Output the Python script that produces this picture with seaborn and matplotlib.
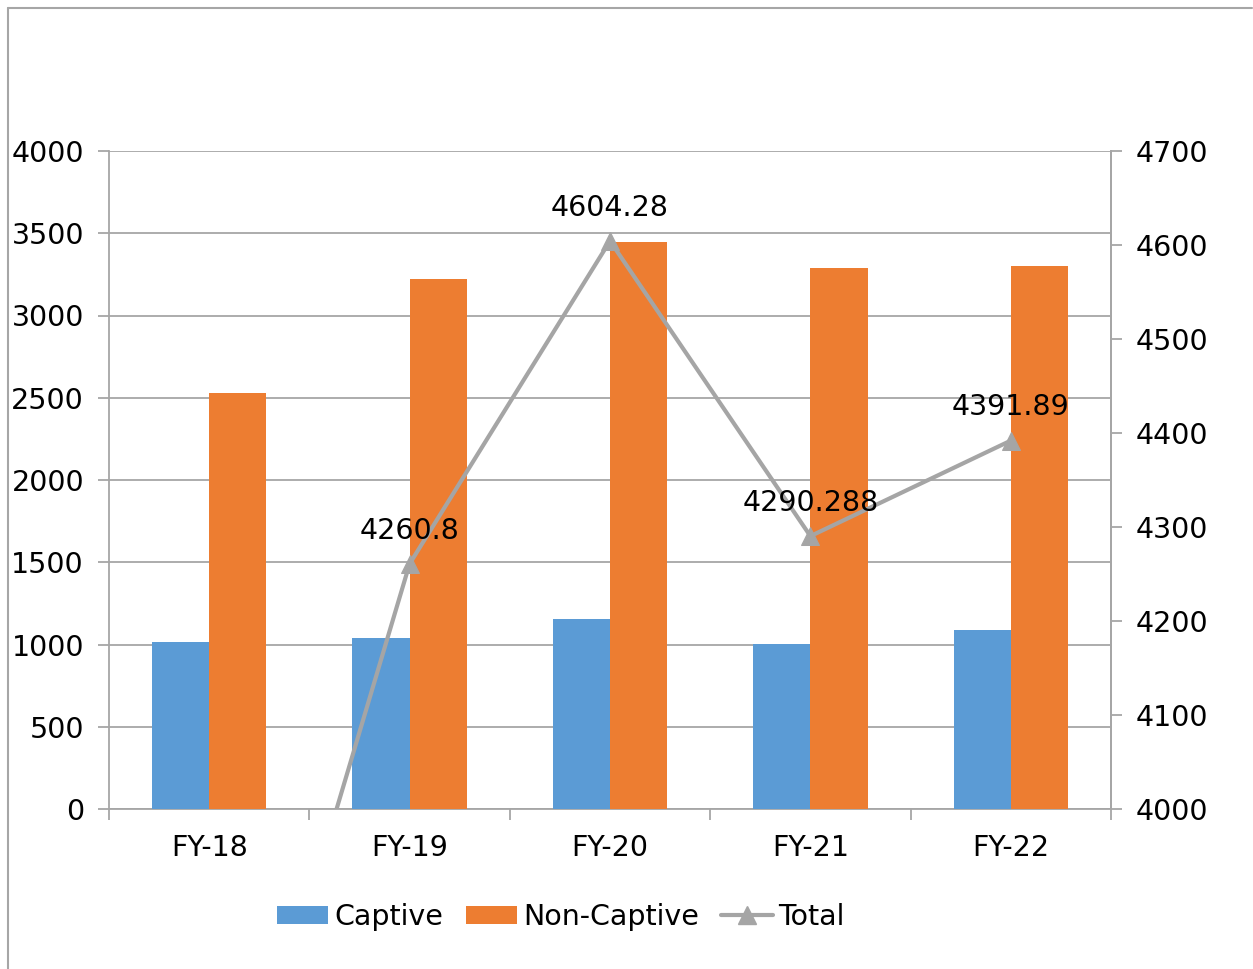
import numpy as np
import pandas as pd
import matplotlib
matplotlib.use("Agg")
import matplotlib.pyplot as plt
from matplotlib.lines import Line2D
from matplotlib.patches import Patch
import seaborn as sns

# Data
years = ["FY-18", "FY-19", "FY-20", "FY-21", "FY-22"]
captive = [1016, 1041, 1157, 1004, 1089]
non_captive = [2529, 3220, 3447, 3286, 3303]
total = [3545, 4260.8, 4604.28, 4290.288, 4391.89]
total_labels = [None, "4260.8", "4604.28", "4290.288", "4391.89"]

BLUE = "#5B9BD5"
ORANGE = "#ED7D31"
GRAY = "#A5A5A5"
AXIS_GRAY = "#A6A6A6"
FS = 20.5

sns.set_theme(style="white")
plt.rcParams["font.family"] = ["DejaVu Sans"]
plt.rcParams["text.color"] = "black"

df = pd.DataFrame({
    "Year": years * 2,
    "Value": captive + non_captive,
    "Series": ["Captive"] * len(years) + ["Non-Captive"] * len(years),
})

fig = plt.figure(figsize=(12.53, 9.69), dpi=100)
ax = fig.add_axes([109 / 1253, 1 - 809 / 969, (1111 - 109) / 1253, (809 - 151) / 969])

sns.barplot(data=df, x="Year", y="Value", hue="Series", order=years,
            palette=[BLUE, ORANGE], width=0.57, gap=0, saturation=1,
            edgecolor="none", linewidth=0, ax=ax, legend=False, zorder=3)

ax.set_xlim(-0.5, len(years) - 0.5)
ax.set_ylim(0, 4000)
ax.set_yticks(np.arange(0, 4001, 500))
ax.set_xlabel("")
ax.set_ylabel("")
ax.yaxis.grid(True, color=AXIS_GRAY, linewidth=1.3)
ax.set_axisbelow(True)

for side in ["left", "bottom", "right"]:
    ax.spines[side].set_visible(True)
    ax.spines[side].set_color(AXIS_GRAY)
    ax.spines[side].set_linewidth(1.3)
ax.spines["top"].set_visible(False)

ax.tick_params(axis="y", which="major", direction="out", length=8, width=1.3,
               color=AXIS_GRAY, labelsize=FS, labelcolor="black", pad=10, left=True)
ax.tick_params(axis="x", which="major", length=0, labelsize=FS, labelcolor="black", pad=18)
ax.set_xticks(np.arange(-0.5, len(years)), minor=True)
ax.tick_params(axis="x", which="minor", direction="out", length=8, width=1.3,
               color=AXIS_GRAY, bottom=True)

# Secondary axis for the total line
ax2 = ax.twinx()
xs = np.arange(len(years))
sns.lineplot(x=xs, y=total, ax=ax2, color=GRAY, linewidth=3, marker="^",
             markersize=13, markeredgecolor=GRAY, markerfacecolor=GRAY,
             zorder=4, clip_on=True)
ax2.set_ylim(4000, 4700)
ax2.set_yticks(np.arange(4000, 4701, 100))
ax2.set_ylabel("")
ax2.grid(False)
for side in ["left", "bottom", "top"]:
    ax2.spines[side].set_visible(False)
ax2.spines["right"].set_visible(True)
ax2.spines["right"].set_color(AXIS_GRAY)
ax2.spines["right"].set_linewidth(1.3)
ax2.tick_params(axis="y", direction="out", length=8, width=1.3, color=AXIS_GRAY,
                labelsize=FS, labelcolor="black", pad=10, right=True)

for x, v, lab in zip(xs, total, total_labels):
    if lab is None:
        continue
    ax2.annotate(lab, (x, v), xytext=(0, 24), textcoords="offset points",
                 ha="center", va="center", fontsize=FS, color="black", zorder=6)

handles = [
    Patch(facecolor=BLUE, edgecolor="none", label="Captive"),
    Patch(facecolor=ORANGE, edgecolor="none", label="Non-Captive"),
    Line2D([0], [0], color=GRAY, linewidth=3, marker="^", markersize=13, label="Total"),
]
leg = fig.legend(handles=handles, loc="center", bbox_to_anchor=(561 / 1253, 1 - 917 / 969),
                 ncol=3, frameon=False, fontsize=FS, handlelength=1.8, handleheight=0.6,
                 handletextpad=0.2, columnspacing=0.8)
for t in leg.get_texts():
    t.set_color("black")

# Outer frame edges
fig.add_artist(Line2D([8 / 1253, 8 / 1253], [0, 1 - 7.5 / 969], transform=fig.transFigure,
                      color=AXIS_GRAY, linewidth=1.5))
fig.add_artist(Line2D([8 / 1253, 1252 / 1253], [1 - 7.5 / 969, 1 - 7.5 / 969],
                      transform=fig.transFigure, color=AXIS_GRAY, linewidth=1.5))

fig.savefig("out.png", dpi=100, facecolor="white")
